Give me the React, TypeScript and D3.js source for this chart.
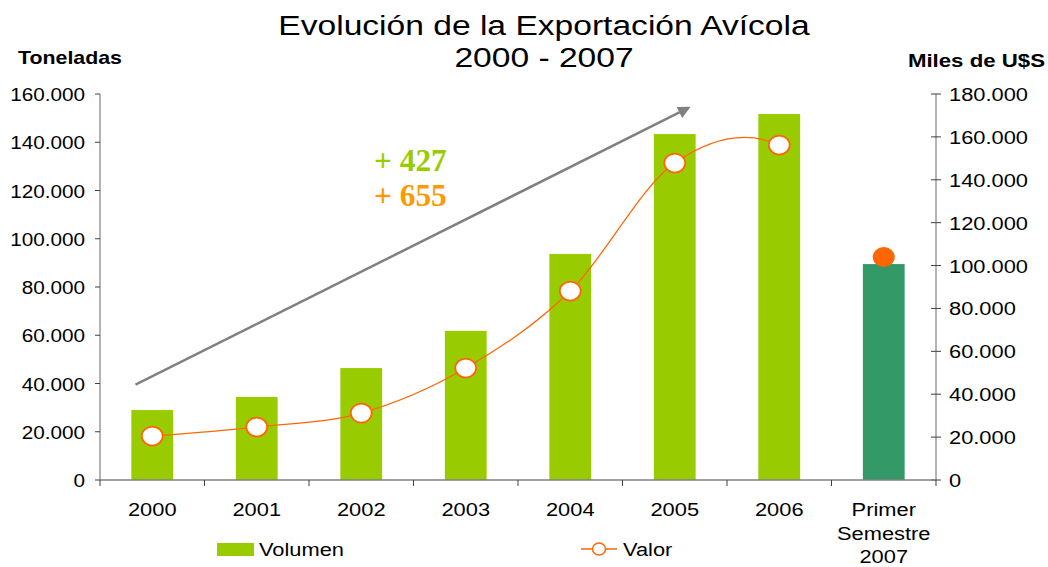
import React from "react";
import * as d3 from "d3";

const categories = ["2000", "2001", "2002", "2003", "2004", "2005", "2006", "Primer Semestre 2007"];
const volumen = [29000, 34400, 46400, 61800, 93700, 143400, 151700, 89500];
const valor = [20500, 24700, 31200, 52200, 88100, 147800, 156200, 104000];
const leftTicks = [0, 20000, 40000, 60000, 80000, 100000, 120000, 140000, 160000];
const rightTicks = [0, 20000, 40000, 60000, 80000, 100000, 120000, 140000, 160000, 180000];
const titleLines = ["Evolución de la Exportación Avícola", "2000 - 2007"];
const annotations = [
  { text: "+ 427", color: "#99cc00" },
  { text: "+ 655", color: "#ff9900" },
];
// trend arrow, expressed as (category index, tonnes)
const arrowFrom = { i: -0.16, v: 39500 };
const arrowTo = { i: 5.13, v: 154200 };

const W = 1048;
const H = 567;
const SANS = "'Liberation Sans', Arial, sans-serif";
const SERIF = "'Liberation Serif', 'Times New Roman', serif";
const SX = 1.15;

const loc = d3.formatLocale({ decimal: ",", thousands: ".", grouping: [3], currency: ["", ""] });
const fmt = loc.format(",d");

function T(props: {
  x: number; y: number; size: number; anchor?: string; weight?: string | number;
  fill?: string; family?: string; sx?: number; children: React.ReactNode;
}) {
  const { x, y, size, anchor = "start", weight = "normal", fill = "#000", family = SANS, sx = SX } = props;
  return (
    <text
      transform={`translate(${x},${y}) scale(${sx},1)`}
      fontSize={size}
      fontFamily={family}
      fontWeight={weight}
      textAnchor={anchor}
      fill={fill}
    >
      {props.children}
    </text>
  );
}

export default function App() {
  const x0 = 100, x1 = 936, y0 = 480, yTop = 94;
  const x = d3.scaleBand<string>().domain(categories).range([x0, x1]).paddingInner(0.6).paddingOuter(0.3);
  const step = x.step();
  const cx = (c: string) => (x(c) as number) + x.bandwidth() / 2;
  const xi = d3.scaleLinear().domain([0, categories.length - 1]).range([cx(categories[0]), cx(categories[categories.length - 1])]);
  const yL = d3.scaleLinear().domain([0, 160000]).range([y0, yTop]);
  const yR = d3.scaleLinear().domain([0, 180000]).range([y0, yTop]);

  // the smoothed curve is computed through all points (so the tangent at 2006
  // accounts for the 2007 value), but only drawn up to 2006
  const allIdx = d3.range(0, categories.length);
  const lineIdx = d3.range(0, 7);
  const lineGen = d3
    .line<number>()
    .x((i) => cx(categories[i]))
    .y((i) => yR(valor[i]))
    .curve(d3.curveCardinal.tension(0));

  const boundaries = d3.range(0, categories.length + 1).map((k) => x0 + k * step);

  const ax1 = xi(arrowFrom.i), ay1 = yL(arrowFrom.v);
  const ax2 = xi(arrowTo.i), ay2 = yL(arrowTo.v);
  const clipRight = cx(categories[6]);

  return (
    <svg width={W} height={H} style={{ display: "block", position: "absolute", left: 0, top: 0 }}>
      <defs>
        <marker id="ah" viewBox="0 0 10 10" refX="8" refY="5" markerWidth="5" markerHeight="5" orient="auto">
          <path d="M0,0 L10,5 L0,10 z" fill="#808080" />
        </marker>
        <clipPath id="lineclip">
          <rect x={0} y={0} width={clipRight} height={H} />
        </clipPath>
      </defs>
      <rect width={W} height={H} fill="#fff" />

      {/* title */}
      {titleLines.map((t, k) => (
        <T key={k} x={544} y={35 + k * 32} size={28} anchor="middle" sx={1.2}>
          {t}
        </T>
      ))}

      {/* axis titles */}
      <T x={18} y={64} size={17.5} weight="bold" sx={1.22}>Toneladas</T>
      <T x={1045} y={67} size={17.5} weight="bold" anchor="end" sx={1.27}>Miles de U$S</T>

      {/* bars */}
      {categories.map((c, i) => (
        <rect
          key={c}
          x={x(c)}
          y={yL(volumen[i])}
          width={x.bandwidth()}
          height={y0 - yL(volumen[i])}
          fill={i === categories.length - 1 ? "#339966" : "#99cc00"}
        />
      ))}

      {/* left axis */}
      <line x1={x0} x2={x0} y1={yTop} y2={y0} stroke="#808080" strokeWidth={1.2} />
      {leftTicks.map((t) => (
        <g key={t}>
          <line x1={x0 - 5} x2={x0} y1={yL(t)} y2={yL(t)} stroke="#404040" />
          <T x={85} y={yL(t) + 7} size={18.5} anchor="end" sx={1.12}>{fmt(t)}</T>
        </g>
      ))}

      {/* right axis */}
      <line x1={x1} x2={x1} y1={yTop} y2={y0} stroke="#808080" strokeWidth={1.2} />
      {rightTicks.map((t) => (
        <g key={t}>
          <line x1={x1 - 5} x2={x1 + 5} y1={yR(t)} y2={yR(t)} stroke="#404040" />
          <T x={949} y={yR(t) + 7} size={19} anchor="start" sx={1.15}>{fmt(t)}</T>
        </g>
      ))}

      {/* x axis */}
      <line x1={x0} x2={x1} y1={y0} y2={y0} stroke="#808080" strokeWidth={1.5} />
      {boundaries.map((b, k) => (
        <line key={k} x1={b} x2={b} y1={y0} y2={y0 + 6} stroke="#404040" />
      ))}
      {categories.map((c) => {
        const words = c.length > 4 ? c.split(" ") : [c];
        return words.map((w, k) => (
          <T key={c + k} x={cx(c)} y={516 + k * 23.5} size={19} anchor="middle">
            {w}
          </T>
        ));
      })}

      {/* trend arrow */}
      <line x1={ax1} y1={ay1} x2={ax2} y2={ay2} stroke="#808080" strokeWidth={2.5} markerEnd="url(#ah)" />

      {/* annotations */}
      {annotations.map((a, k) => (
        <T key={k} x={374} y={171 + k * 35} size={32} weight="bold" family={SERIF} fill={a.color} sx={0.98}>
          {a.text}
        </T>
      ))}

      {/* value line */}
      <path d={lineGen(allIdx) || ""} fill="none" stroke="#ff6600" strokeWidth={1.3} clipPath="url(#lineclip)" />
      {lineIdx.map((i) => (
        <ellipse key={i} cx={cx(categories[i])} cy={yR(valor[i])} rx={10.5} ry={9.5} fill="#fff" stroke="#ff6600" strokeWidth={1.8} />
      ))}
      <ellipse
        cx={cx(categories[7])}
        cy={yR(valor[7])}
        rx={11}
        ry={10}
        fill="#ff6600"
      />

      {/* legend */}
      <rect x={217} y={543} width={37} height={13} fill="#99cc00" />
      <T x={259} y={556} size={19}>Volumen</T>
      <line x1={581} x2={617} y1={549} y2={549} stroke="#ff6600" strokeWidth={1.3} />
      <ellipse cx={599} cy={549} rx={6.5} ry={6} fill="#fff" stroke="#ff6600" strokeWidth={1.5} />
      <T x={623} y={556} size={19}>Valor</T>
    </svg>
  );
}
